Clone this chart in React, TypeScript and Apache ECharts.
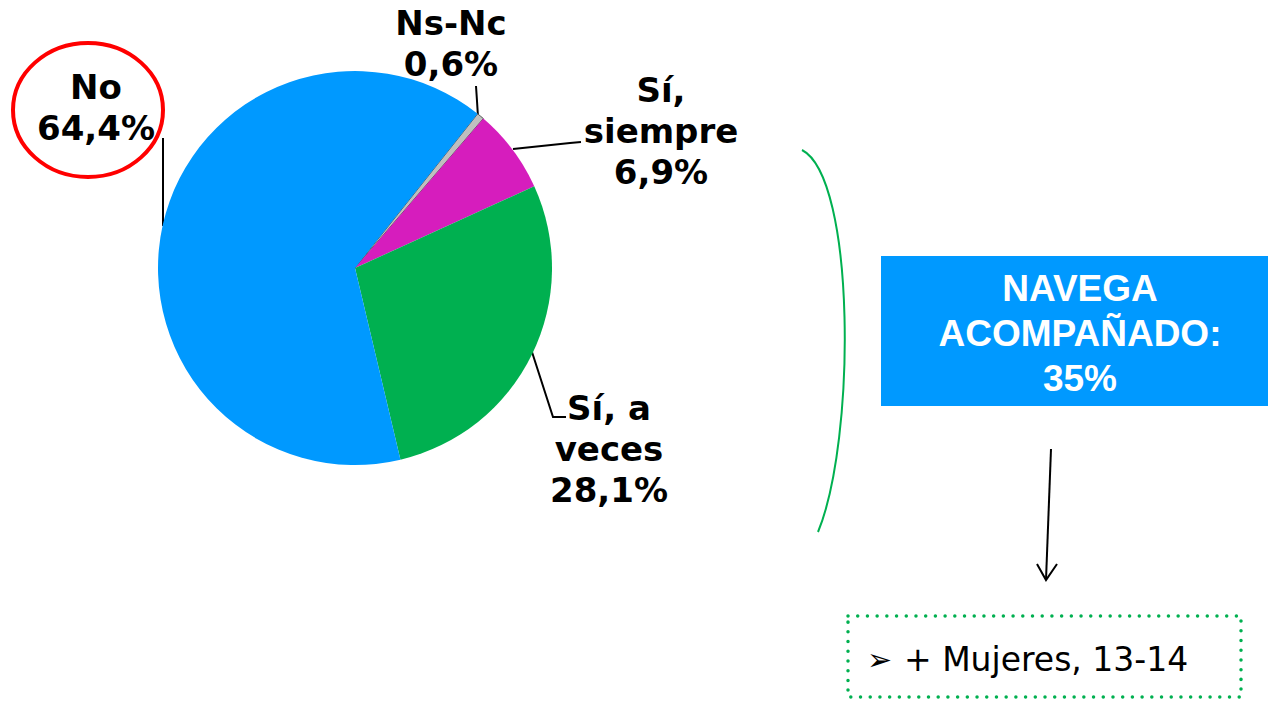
import React, { useEffect, useRef } from "react";
import * as echarts from "echarts";

const categories = ["Ns-Nc", "Sí,\nsiempre", "Sí, a\nveces", "No"];
const values = [0.6, 6.9, 28.1, 64.4];
const colors = ["#BFBFBF", "#D61DBD", "#00B050", "#0099FF"];
const boxLines = ["NAVEGA", "ACOMPAÑADO:", "35%"];
const noteText = "+ Mujeres, 13-14";

// label anchor positions (text centre) and leader lines, per slice
const labelPos = [
  { x: 451, y: 43, line: [[478, 117], [477, 101], [476, 86]] },
  { x: 661, y: 131, line: [[513, 149], [570, 143], [581, 142]] },
  { x: 609, y: 449, line: [[532, 352], [553, 417], [566, 417]] },
  { x: 96, y: 107, line: [[163, 226], [163, 183], [163, 138]] },
];

const fmt = (v: number) => v.toFixed(1).replace(".", ",") + "%";

export default function App() {
  const ref = useRef<HTMLDivElement>(null);
  useEffect(() => {
    if (!ref.current) return;
    const chart = echarts.init(ref.current, null, { renderer: "svg" });
    chart.setOption({
      animation: false,
      backgroundColor: "#ffffff",
      series: [
        {
          type: "pie",
          center: [355, 268],
          radius: 197,
          startAngle: 51.5,
          clockwise: true,
          avoidLabelOverlap: false,
          data: categories.map((c, i) => ({
            name: c,
            value: values[i],
            itemStyle:
              i === 0
                ? { color: colors[i], borderColor: "#555555", borderWidth: 1 }
                : { color: colors[i] },
          })),
          label: {
            show: true,
            position: "outside",
            formatter: (p: any) => p.name + "\n" + fmt(p.value),
            fontFamily: "DejaVu Sans",
            fontWeight: "bold",
            fontSize: 34,
            lineHeight: 41,
            color: "#000000",
            align: "center",
          },
          labelLine: {
            show: true,
            lineStyle: { color: "#000000", width: 2 },
          },
          labelLayout: (params: any) => {
            const lp = labelPos[params.dataIndex];
            return {
              x: lp.x,
              y: lp.y,
              align: "center",
              verticalAlign: "middle",
              labelLinePoints: lp.line,
            };
          },
        },
      ],
      graphic: [
        {
          type: "ellipse",
          shape: { cx: 88, cy: 110, rx: 75, ry: 67 },
          style: { fill: "none", stroke: "#FF0000", lineWidth: 4 },
        },
        {
          type: "bezierCurve",
          shape: {
            x1: 802, y1: 150,
            cpx1: 856, cpy1: 178,
            cpx2: 856, cpy2: 440,
            x2: 818, y2: 532,
          },
          style: { fill: "none", stroke: "#00B050", lineWidth: 2 },
        },
        {
          type: "rect",
          shape: { x: 881, y: 256, width: 400, height: 150 },
          style: { fill: "#0099FF" },
        },
        ...boxLines.map((t, i) => ({
          type: "text",
          x: 1080,
          y: 288 + i * 45,
          style: {
            text: t,
            fill: "#ffffff",
            font: "bold 37px 'Liberation Sans', Arial, sans-serif",
            align: "center",
            verticalAlign: "middle",
          },
        })),
        {
          type: "line",
          shape: { x1: 1051, y1: 449, x2: 1046, y2: 580 },
          style: { stroke: "#000000", lineWidth: 2 },
        },
        {
          type: "polyline",
          shape: { points: [[1037, 564], [1046, 580], [1057, 564]] },
          style: { fill: "none", stroke: "#000000", lineWidth: 2 },
        },
        {
          type: "rect",
          shape: { x: 848, y: 616, width: 393, height: 81 },
          style: {
            fill: "none",
            stroke: "#00B050",
            lineWidth: 3.5,
            lineDash: [0.01, 9.7],
            lineCap: "round",
          },
        },
        {
          type: "text",
          x: 867,
          y: 659,
          style: {
            text: "➢",
            fill: "#000000",
            font: "30px 'DejaVu Sans', sans-serif",
            align: "left",
            verticalAlign: "middle",
          },
        },
        {
          type: "text",
          x: 904,
          y: 659,
          style: {
            text: noteText,
            fill: "#000000",
            font: "33px 'DejaVu Sans', Verdana, sans-serif",
            align: "left",
            verticalAlign: "middle",
          },
        },
      ],
    });
    return () => chart.dispose();
  }, []);
  return (
    <div
      ref={ref}
      style={{ position: "fixed", left: 0, top: 0, width: 1268, height: 707 }}
    />
  );
}
